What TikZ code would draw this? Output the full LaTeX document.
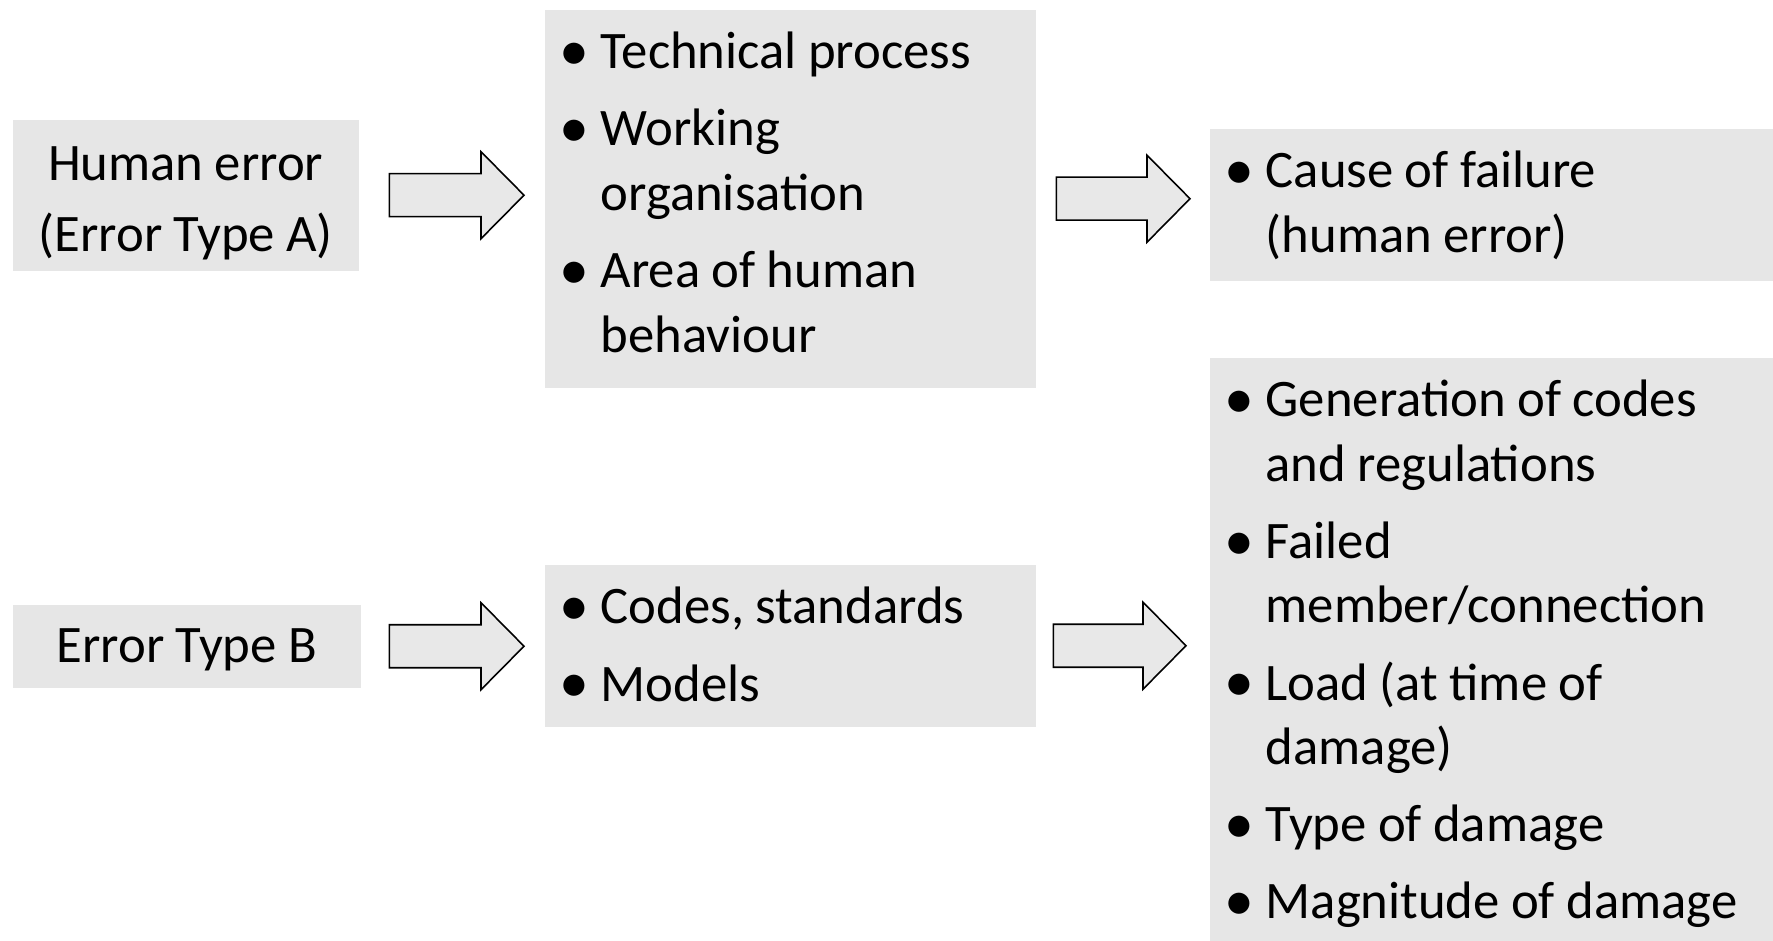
\documentclass[tikz,border=0pt]{standalone}
\usepackage{fontspec}
\setmainfont[WordSpace=0.95]{Carlito}
\usetikzlibrary{calc}

\definecolor{boxgrey}{HTML}{E6E6E6}
\definecolor{arrowgrey}{HTML}{E8E8E8}

% bullet and hanging indent for the list boxes
\newcommand{\blt}{\makebox[0.56cm][l]{\hspace*{0.147cm}\raisebox{-0.5pt}{\fontsize{17}{17}\selectfont\textbullet}}}
\newcommand{\hang}{\hspace*{0.56cm}}
% text hung from the top of a box: width, height, top gap, content
\newcommand{\toptext}[4]{\parbox[t][#2][t]{#1}{\vspace*{#3}#4}}

\tikzset{
    greybox/.style={fill=boxgrey, inner sep=0pt, anchor=north west,
        font=\fontsize{15}{18.35}\selectfont},
    blockarrow/.style={draw=black, line width=0.45pt, fill=arrowgrey,
        to path={let \p1=(\tikztostart), \p2=(\tikztotarget) in
            (\x1,\y1+0.215cm) -- (\x2-0.43cm,\y1+0.215cm) -- (\x2-0.43cm,\y1+0.435cm)
            -- (\x2,\y1) -- (\x2-0.43cm,\y1-0.435cm) -- (\x2-0.43cm,\y1-0.215cm)
            -- (\x1,\y1-0.215cm) -- cycle}}
}

\begin{document}
\begin{tikzpicture}
    \useasboundingbox (0,0) rectangle (17.73,9.40);

    % Error type A row
    \node[greybox] (typeA) at (0.12,8.21)
        {\toptext{3.46cm}{1.51cm}{0.16cm}{\centering\strut Human error\\[1.85pt](Error Type A)}};
    \node[greybox] (procA) at (5.44,9.31)
        {\toptext{4.91cm}{3.78cm}{0.14cm}{\raggedright\strut
         \blt Technical process\\[3.6pt]
         \blt Working\\ \hang organisation\\[3.6pt]
         \blt Area of human\\ \hang behaviour}};
    \node[greybox] (causeA) at (12.09,8.12)
        {\toptext{5.64cm}{1.52cm}{0.14cm}{\raggedright\strut
         \blt Cause of failure\\ \hang (human error)}};

    % Error type B row
    \node[greybox] (typeB) at (0.12,3.36)
        {\toptext{3.48cm}{0.83cm}{0.13cm}{\centering\strut Error Type B}};
    \node[greybox] (procB) at (5.44,3.76)
        {\toptext{4.91cm}{1.62cm}{0.14cm}{\raggedright\strut
         \blt Codes, standards\\[3.6pt]
         \blt Models}};
    \node[greybox] (causeB) at (12.09,5.83)
        {\toptext{5.64cm}{5.83cm}{0.14cm}{\raggedright\strut
         \blt Generation of codes\\ \hang and regulations\\[3.6pt]
         \blt Failed\\ \hang member/connection\\[3.6pt]
         \blt Load (at time of\\ \hang damage)\\[3.6pt]
         \blt Type of damage\\[3.6pt]
         \blt Magnitude of damage}};

    % Arrows
    \draw[blockarrow] ([xshift=0.3cm]typeA.east) to ([xshift=-0.2cm]procA.west);
    \draw[blockarrow] ([xshift=0.2cm]procA.east) to ([xshift=-0.19cm]causeA.west);
    \draw[blockarrow] ([xshift=0.28cm]typeB.east) to ([xshift=-0.2cm]procB.west);
    \draw[blockarrow] ([xshift=0.17cm]procB.east) to ([xshift=-0.23cm]causeB.west);
\end{tikzpicture}
\end{document}
